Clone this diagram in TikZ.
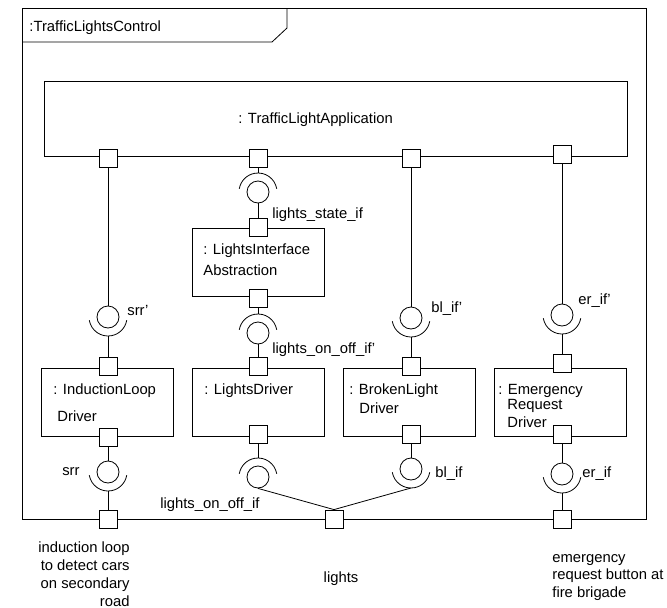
\documentclass[tikz,border=0pt]{standalone}
\usepackage{fontspec}
\setmainfont{Liberation Sans}
\begin{document}
\begin{tikzpicture}[x=1pt,y=-1pt,line width=0.8pt,font=\fontsize{14.8}{17.8}\selectfont,
  part/.style={draw,rectangle,inner sep=0pt,minimum width=132pt,minimum height=68pt},
  port/.style={draw,fill=white,rectangle,inner sep=0pt,minimum size=18pt},
  ball/.style={draw,circle,inner sep=0pt,minimum size=22pt},
  sock/.style={circle,inner sep=0pt,outer sep=0pt,minimum size=38pt},
  lbl/.style={inner sep=0pt,anchor=base west}]
\def\xa{108};
\def\xb{258};
\def\xc{411};
\def\xd{562};
\def\r{19pt};
\useasboundingbox (0,0) rectangle (667,608);
\draw (22,8) rectangle (646,519);
\draw (22,42) -- (272,42) -- (287,28) -- (287,8);
\node[lbl] (title) at (29,31) {:TrafficLightsControl};
\node[part,minimum width=583pt,minimum height=75pt] (app) at (335.5,118.5) {};
\node[lbl] (apptxt) at (238,123) {: TrafficLightApplication};
\node[port] (a1) at (\xa,158) {};
\node[port] (a2) at (\xb,158) {};
\node[port] (a3) at (\xc,158) {};
\node[port] (a4) at (\xd,154) {};
\node[part] (lia) at (\xb,262) {};
\node[lbl,align=left] (liatxt) at (203,275) {: LightsInterface\\[3pt]Abstraction};
\node[port] (liaT) at (\xb,227) {};
\node[port] (liaB) at (\xb,298) {};
\node[part] (ild) at (107,402) {};
\node[part] (ld) at (\xb,402) {};
\node[part] (bl) at (409.5,402) {};
\node[part] (er) at (560.5,402) {};
\node[lbl,align=left] (ildtxt) at (53,421) {: InductionLoop\\[9pt]\hspace*{4pt}Driver};
\node[lbl] (ldtxt) at (204,394) {: LightsDriver};
\node[lbl,align=left] (bltxt) at (349,413) {: BrokenLight\\[1pt]\hspace*{10pt}Driver};
\node[lbl,align=left] (ertxt) at (498,427) {: Emergency\\[-3pt]\hspace*{9pt}Request\\\hspace*{9pt}Driver};
\node[port] (ildT) at (\xa,366) {};
\node[port] (ildB) at (\xa,437) {};
\node[port] (ldT) at (\xb,366) {};
\node[port] (ldB) at (\xb,434) {};
\node[port] (blT) at (\xc,366) {};
\node[port] (blB) at (\xc,434) {};
\node[port] (erT) at (\xd,363) {};
\node[port] (erB) at (\xd,434) {};
\node[port] (pLoop) at (\xa,519) {};
\node[port] (pLights) at (334,519) {};
\node[port] (pEmerg) at (\xd,519) {};
\node[ball] (bsrrq) at (\xa,317) {};
\node[sock] (ssrrq) at (\xa,317) {};
\node[ball] (blsi) at (\xb,192) {};
\node[sock] (slsi) at (\xb,192) {};
\node[ball] (blooq) at (\xb,333) {};
\node[sock] (slooq) at (\xb,333) {};
\node[ball] (bblq) at (\xc,318) {};
\node[sock] (sblq) at (\xc,318) {};
\node[ball] (berq) at (\xd,315) {};
\node[sock] (serq) at (\xd,315) {};
\node[ball] (bsrr) at (\xa,472) {};
\node[sock] (ssrr) at (\xa,472) {};
\node[ball] (bloo) at (\xb,477) {};
\node[sock] (sloo) at (\xb,477) {};
\node[ball] (bbl) at (\xc,469) {};
\node[sock] (sbl) at (\xc,469) {};
\node[ball] (ber) at (\xd,474) {};
\node[sock] (ser) at (\xd,474) {};
\foreach \s in {ssrrq,sblq,serq,ssrr,sbl,ser}
  \draw (\s.190) arc[start angle=190,end angle=350,radius=\r];
\foreach \s in {slsi,slooq,sloo}
  \draw (\s.10) arc[start angle=10,end angle=170,radius=\r];
\draw (a1) -- (bsrrq);
\draw (ssrrq) -- (ildT);
\draw (a2) -- (slsi);
\draw (blsi) -- (liaT);
\draw (liaB) -- (slooq);
\draw (blooq) -- (ldT);
\draw (a3) -- (bblq);
\draw (sblq) -- (blT);
\draw (a4) -- (berq);
\draw (serq) -- (erT);
\draw (ildB) -- (bsrr);
\draw (ssrr) -- (pLoop);
\draw (ldB) -- (sloo);
\draw (bloo.south) -- (pLights.north);
\draw (blB) -- (bbl);
\draw (sbl.south) -- (pLights.north);
\draw (erB) -- (ber);
\draw (ser) -- (pEmerg);
\node[lbl] (lsi) at (272,218) {lights\_state\_if};
\node[lbl] (srrq) at (127,315) {srr'};
\node[lbl] (looq) at (272,353) {lights\_on\_off\_if'};
\node[lbl] (blq) at (431,312) {bl\_if'};
\node[lbl] (erq) at (578,304) {er\_if'};
\node[lbl,anchor=base east] (srr) at (80,475) {srr};
\node[lbl,anchor=base east] (loo) at (260,508) {lights\_on\_off\_if};
\node[lbl] (blif) at (435,477) {bl\_if};
\node[lbl] (erif) at (582,477) {er\_if};
\node[lbl,anchor=base east,align=right] (loopnote) at (130,606) {induction loop\\to detect cars\\on secondary\\road};
\node[lbl,anchor=base] (lightsnote) at (341,582) {lights};
\node[lbl,align=left] (emergnote) at (552,597.6) {emergency\\request button at\\fire brigade};
\end{tikzpicture}
\end{document}
